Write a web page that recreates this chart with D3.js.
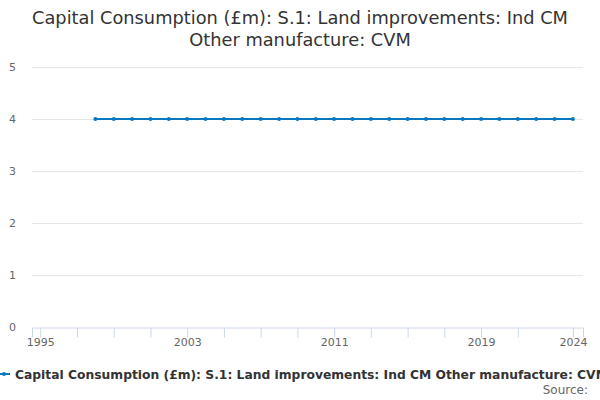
<!DOCTYPE html>
<html>
<head>
<meta charset="utf-8">
<script src="https://cdn.jsdelivr.net/npm/d3@7"></script>
<style>
  body { margin: 0; background: #fff; }
  text { font-family: "DejaVu Sans", sans-serif; }
</style>
</head>
<body>
<svg id="chart" width="600" height="400"></svg>
<script>
// data
const years = d3.range(1998, 2025);
const values = [4,4,4,4,4,4,4,4,4,4,4,4,4,4,4,4,4,4,4,4,4,4,4,4,4,4,4];
const tickYears = [1995,1997,1999,2001,2003,2005,2007,2009,2011,2013,2015,2017,2019,2021,2024];
const labelYears = [1995, 2003, 2011, 2019, 2024];
const yTicks = [0, 1, 2, 3, 4, 5];
const titleLines = ["Capital Consumption (£m): S.1: Land improvements: Ind CM", "Other manufacture: CVM"];
const seriesName = "Capital Consumption (£m): S.1: Land improvements: Ind CM Other manufacture: CVM";

let svg = d3.select("#chart");
const margin = {top: 67, right: 17, bottom: 73, left: 32};
const width = 600, height = 400;
const plotW = width - margin.left - margin.right,
    plotH = height - margin.top - margin.bottom;
const color = "#0a78be";

let x = d3.scaleLinear()
    .domain([1994.55, 2024.55])
    .range([margin.left, margin.left + plotW]);
let y = d3.scaleLinear()
    .domain([0, 5])
    .range([margin.top + plotH, margin.top]);

// title
svg.append("text")
    .attr("text-anchor", "middle")
    .attr("font-size", 17.8)
    .attr("fill", "#333")
    .selectAll("tspan")
    .data(titleLines)
    .enter().append("tspan")
    .attr("x", width / 2)
    .attr("y", (d, i) => 24 + i * 22)
    .text(d => d);

// gridlines
svg.append("g")
    .selectAll("line")
    .data(yTicks.filter(d => d > 0))
    .enter().append("line")
    .attr("x1", margin.left).attr("x2", margin.left + plotW)
    .attr("y1", d => y(d) + 0.5).attr("y2", d => y(d) + 0.5)
    .attr("stroke", "#e6e6e6");

// y labels
svg.append("g")
    .selectAll("text")
    .data(yTicks)
    .enter().append("text")
    .attr("x", 16)
    .attr("y", d => y(d) + 4)
    .attr("text-anchor", "end")
    .attr("font-size", 11)
    .attr("fill", "#666")
    .text(d => d);

// x axis
let xAxis = d3.axisBottom(x)
    .tickValues(tickYears)
    .tickSize(10)
    .tickFormat(d => labelYears.includes(d) ? d : "");
let gx = svg.append("g")
    .attr("transform", "translate(0," + (margin.top + plotH + 0.5) + ")")
    .call(xAxis);
gx.select(".domain").attr("stroke", "#ccd6eb");
gx.selectAll(".tick line").attr("stroke", "#ccd6eb");
gx.selectAll(".tick text")
    .attr("font-family", "DejaVu Sans, sans-serif")
    .attr("font-size", 11)
    .attr("fill", "#666")
    .attr("dy", "0.9em")
    .attr("y", 9);

// line
let line = d3.line()
    .x((d, i) => x(years[i]))
    .y(d => y(d));
svg.append("path")
    .datum(values)
    .attr("d", line)
    .attr("fill", "none")
    .attr("stroke", color)
    .attr("stroke-width", 2);
svg.append("g")
    .selectAll("circle")
    .data(values)
    .enter().append("circle")
    .attr("cx", (d, i) => x(years[i]))
    .attr("cy", d => y(d))
    .attr("r", 2)
    .attr("fill", color);

// legend
let lg = svg.append("g").attr("transform", "translate(0,374)");
lg.append("line")
    .attr("x1", -2).attr("x2", 10)
    .attr("y1", 0).attr("y2", 0)
    .attr("stroke", color).attr("stroke-width", 2);
lg.append("circle").attr("cx", 4).attr("cy", 0).attr("r", 2).attr("fill", color);
lg.append("text")
    .attr("x", 15).attr("y", 4.5)
    .attr("font-size", 12.3)
    .attr("font-weight", "bold")
    .attr("fill", "#333")
    .text(seriesName);

// source
svg.append("text")
    .attr("x", 588).attr("y", 394)
    .attr("text-anchor", "end")
    .attr("font-size", 12)
    .attr("fill", "#666")
    .text("Source:");
</script>
</body>
</html>
